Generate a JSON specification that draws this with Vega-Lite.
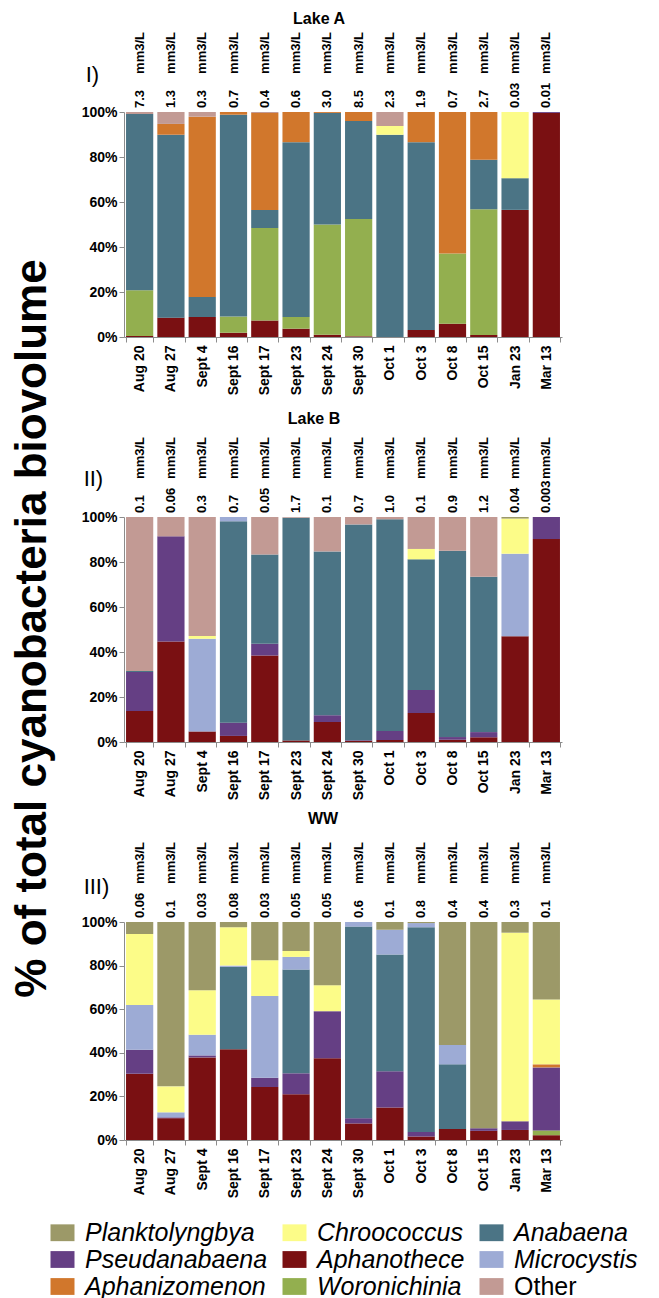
{
  "$schema": "https://vega.github.io/schema/vega-lite/v6.json",
  "background": "white",
  "padding": {"left": 10, "top": 10, "right": 0, "bottom": 0},
  "config": {
    "view": {"stroke": null},
    "axis": {"labelFont": "Liberation Sans", "labelFontWeight": "bold", "labelFontSize": 14, "labelColor": "black", "domainColor": "#8c8c8c", "tickColor": "#8c8c8c", "grid": false, "tickSize": 5, "labelPadding": 2},
    "legend": {"orient": "none", "legendX": -74, "legendY": 1108, "direction": "horizontal"}
  },
  "data": {"values": [
    {"lake": "Lake A", "date": "Aug 20", "vol": "7.3", "Aphanothece": 0.5, "Woronichinia": 20.3, "Anabaena": 78.3, "Other": 0.9},
    {"lake": "Lake A", "date": "Aug 27", "vol": "1.3", "Aphanothece": 8.6, "Anabaena": 81.3, "Aphanizomenon": 4.8, "Other": 5.3},
    {"lake": "Lake A", "date": "Sept 4", "vol": "0.3", "Aphanothece": 8.9, "Anabaena": 8.9, "Aphanizomenon": 80.1, "Other": 2.1},
    {"lake": "Lake A", "date": "Sept 16", "vol": "0.7", "Aphanothece": 1.9, "Woronichinia": 7.2, "Anabaena": 89.7, "Aphanizomenon": 1.2},
    {"lake": "Lake A", "date": "Sept 17", "vol": "0.4", "Aphanothece": 7.3, "Woronichinia": 41.1, "Anabaena": 8.1, "Aphanizomenon": 43.1, "Other": 0.4},
    {"lake": "Lake A", "date": "Sept 23", "vol": "0.6", "Aphanothece": 3.7, "Woronichinia": 5.2, "Anabaena": 77.7, "Aphanizomenon": 13.4},
    {"lake": "Lake A", "date": "Sept 24", "vol": "3.0", "Aphanothece": 1.0, "Woronichinia": 49.0, "Anabaena": 49.6, "Aphanizomenon": 0.4},
    {"lake": "Lake A", "date": "Sept 30", "vol": "8.5", "Aphanothece": 0.3, "Woronichinia": 52.1, "Anabaena": 43.6, "Aphanizomenon": 4.0},
    {"lake": "Lake A", "date": "Oct 1", "vol": "2.3", "Anabaena": 89.9, "Chroococcus": 3.9, "Other": 6.2},
    {"lake": "Lake A", "date": "Oct 3", "vol": "1.9", "Aphanothece": 3.1, "Anabaena": 83.5, "Aphanizomenon": 13.4},
    {"lake": "Lake A", "date": "Oct 8", "vol": "0.7", "Aphanothece": 5.9, "Woronichinia": 31.2, "Aphanizomenon": 62.9},
    {"lake": "Lake A", "date": "Oct 15", "vol": "2.7", "Aphanothece": 0.9, "Woronichinia": 55.9, "Anabaena": 22.0, "Aphanizomenon": 21.2},
    {"lake": "Lake A", "date": "Jan 23", "vol": "0.03", "Aphanothece": 56.5, "Anabaena": 14.1, "Chroococcus": 29.4},
    {"lake": "Lake A", "date": "Mar 13", "vol": "0.01", "Aphanothece": 99.6, "Pseudanabaena": 0.4},
    {"lake": "Lake B", "date": "Aug 20", "vol": "0.1", "Aphanothece": 13.8, "Pseudanabaena": 17.3, "Anabaena": 0.5, "Other": 68.4},
    {"lake": "Lake B", "date": "Aug 27", "vol": "0.06", "Aphanothece": 44.7, "Pseudanabaena": 46.7, "Other": 8.6},
    {"lake": "Lake B", "date": "Sept 4", "vol": "0.3", "Aphanothece": 4.7, "Microcystis": 41.2, "Chroococcus": 1.2, "Other": 52.9},
    {"lake": "Lake B", "date": "Sept 16", "vol": "0.7", "Aphanothece": 2.7, "Pseudanabaena": 5.9, "Anabaena": 89.5, "Microcystis": 1.9},
    {"lake": "Lake B", "date": "Sept 17", "vol": "0.05", "Aphanothece": 38.4, "Pseudanabaena": 5.3, "Anabaena": 39.6, "Other": 16.7},
    {"lake": "Lake B", "date": "Sept 23", "vol": "1.7", "Aphanothece": 0.7, "Anabaena": 99.0, "Other": 0.3},
    {"lake": "Lake B", "date": "Sept 24", "vol": "0.1", "Aphanothece": 8.9, "Pseudanabaena": 3.0, "Anabaena": 72.8, "Other": 15.3},
    {"lake": "Lake B", "date": "Sept 30", "vol": "0.7", "Aphanothece": 0.5, "Pseudanabaena": 0.3, "Anabaena": 95.9, "Other": 3.3},
    {"lake": "Lake B", "date": "Oct 1", "vol": "1.0", "Aphanothece": 0.9, "Pseudanabaena": 4.0, "Anabaena": 94.1, "Other": 1.0},
    {"lake": "Lake B", "date": "Oct 3", "vol": "0.1", "Aphanothece": 12.9, "Pseudanabaena": 10.2, "Anabaena": 58.1, "Chroococcus": 4.6, "Other": 14.2},
    {"lake": "Lake B", "date": "Oct 8", "vol": "0.9", "Aphanothece": 1.0, "Pseudanabaena": 1.2, "Anabaena": 82.8, "Other": 15.0},
    {"lake": "Lake B", "date": "Oct 15", "vol": "1.2", "Aphanothece": 2.1, "Pseudanabaena": 2.3, "Anabaena": 69.1, "Other": 26.5},
    {"lake": "Lake B", "date": "Jan 23", "vol": "0.04", "Aphanothece": 47.0, "Microcystis": 36.7, "Chroococcus": 15.6, "Planktolyngbya": 0.7},
    {"lake": "Lake B", "date": "Mar 13", "vol": "0.003", "Aphanothece": 90.2, "Pseudanabaena": 9.8},
    {"lake": "WW", "date": "Aug 20", "vol": "0.06", "Aphanothece": 30.4, "Pseudanabaena": 11.0, "Microcystis": 20.5, "Chroococcus": 32.6, "Planktolyngbya": 5.5},
    {"lake": "WW", "date": "Aug 27", "vol": "0.1", "Aphanothece": 10.0, "Pseudanabaena": 0.4, "Microcystis": 2.3, "Chroococcus": 11.9, "Planktolyngbya": 75.4},
    {"lake": "WW", "date": "Sept 4", "vol": "0.03", "Aphanothece": 37.9, "Pseudanabaena": 0.9, "Microcystis": 9.5, "Chroococcus": 20.4, "Planktolyngbya": 31.3},
    {"lake": "WW", "date": "Sept 16", "vol": "0.08", "Aphanothece": 41.6, "Anabaena": 37.8, "Microcystis": 0.6, "Chroococcus": 17.6, "Planktolyngbya": 2.4},
    {"lake": "WW", "date": "Sept 17", "vol": "0.03", "Aphanothece": 24.3, "Pseudanabaena": 4.3, "Microcystis": 37.5, "Chroococcus": 16.4, "Planktolyngbya": 17.5},
    {"lake": "WW", "date": "Sept 23", "vol": "0.05", "Aphanothece": 21.0, "Pseudanabaena": 9.6, "Anabaena": 47.6, "Microcystis": 5.8, "Chroococcus": 2.7, "Planktolyngbya": 13.3},
    {"lake": "WW", "date": "Sept 24", "vol": "0.05", "Aphanothece": 37.5, "Pseudanabaena": 21.6, "Chroococcus": 11.9, "Planktolyngbya": 29.0},
    {"lake": "WW", "date": "Sept 30", "vol": "0.6", "Aphanothece": 7.6, "Pseudanabaena": 2.4, "Anabaena": 87.9, "Microcystis": 2.1},
    {"lake": "WW", "date": "Oct 1", "vol": "0.1", "Aphanothece": 14.9, "Pseudanabaena": 16.6, "Anabaena": 53.6, "Microcystis": 11.4, "Planktolyngbya": 3.5},
    {"lake": "WW", "date": "Oct 3", "vol": "0.8", "Aphanothece": 1.6, "Pseudanabaena": 2.1, "Anabaena": 93.9, "Microcystis": 1.9, "Planktolyngbya": 0.5},
    {"lake": "WW", "date": "Oct 8", "vol": "0.4", "Aphanothece": 5.1, "Anabaena": 29.6, "Microcystis": 8.9, "Planktolyngbya": 56.4},
    {"lake": "WW", "date": "Oct 15", "vol": "0.4", "Aphanothece": 4.2, "Pseudanabaena": 1.2, "Planktolyngbya": 94.6},
    {"lake": "WW", "date": "Jan 23", "vol": "0.3", "Aphanothece": 4.6, "Pseudanabaena": 4.0, "Chroococcus": 86.5, "Planktolyngbya": 4.9},
    {"lake": "WW", "date": "Mar 13", "vol": "0.1", "Aphanothece": 2.2, "Woronichinia": 2.2, "Pseudanabaena": 28.9, "Aphanizomenon": 1.4, "Chroococcus": 29.8, "Planktolyngbya": 35.5}
  ]},
  "bounds": "flush",
  "spacing": 180,
  "vconcat": [
    {
      "width": 438, "height": 225,
      "title": {"text": "Lake A", "font": "Liberation Sans", "fontSize": 16, "fontWeight": "bold", "frame": "group", "anchor": "middle", "dx": -24, "offset": 5},
      "transform": [{"filter": "datum.lake === 'Lake A'"}],
      "layer": [
        {
          "transform": [
            {"fold": ["Aphanothece", "Woronichinia", "Pseudanabaena", "Anabaena", "Microcystis", "Aphanizomenon", "Chroococcus", "Planktolyngbya", "Other"], "as": ["species", "pct"]},
            {"filter": "datum.pct > 0"},
            {"calculate": "indexof(['Aphanothece','Woronichinia','Pseudanabaena','Anabaena','Microcystis','Aphanizomenon','Chroococcus','Planktolyngbya','Other'], datum.species)", "as": "stackrank"}
          ],
          "mark": {"type": "bar"},
          "encoding": {
            "x": {"field": "date", "type": "nominal", "sort": ["Aug 20","Aug 27","Sept 4","Sept 16","Sept 17","Sept 23","Sept 24","Sept 30","Oct 1","Oct 3","Oct 8","Oct 15","Jan 23","Mar 13"], "scale": {"paddingInner": 0.13, "paddingOuter": 0.065}, "axis": {"title": null, "labelAngle": -90, "tickBand": "extent", "labelPadding": 3}},
            "y": {"field": "pct", "type": "quantitative", "aggregate": "sum", "stack": "normalize", "scale": {"domain": [0, 1]}, "axis": {"title": "% of total cyanobacteria biovolume", "titleFont": "Liberation Sans", "titleFontSize": 44, "titleFontWeight": "bold", "titleColor": "black", "titlePadding": 27, "titleY": 516, "titleAnchor": "middle", "format": ".0%", "values": [0,0.1,0.2,0.3,0.4,0.5,0.6,0.7,0.8,0.9,1]}},
            "color": {"field": "species", "type": "nominal", "scale": {"domain": ["Planktolyngbya","Chroococcus","Anabaena","Pseudanabaena","Aphanothece","Microcystis","Aphanizomenon","Woronichinia","Other"], "range": ["#9C9968","#FCFC88","#4B7485","#653F84","#7A1012","#9DABD5","#D1772C","#93AF4F","#C29A94"]},
              "legend": {"title": null, "columns": 3, "direction": "horizontal", "labelFont": "Liberation Sans", "labelFontSize": 25, "labelFontStyle": "italic", "labelColor": "black", "symbolType": "M-1,-0.7H1V0.7H-1Z", "symbolSize": 576, "symbolStrokeWidth": 0, "symbolOpacity": 1, "rowPadding": 1, "columnPadding": 14, "labelOffset": 10, "labelLimit": 300, "padding": 0,
                "encode": {"labels": {"update": {"fontStyle": {"signal": "datum.label === 'Other' ? 'normal' : 'italic'"}}}}}},
            "order": {"field": "stackrank", "type": "quantitative"}
          }
        },
        {
          "mark": {"type": "text", "angle": 270, "align": "left", "baseline": "middle", "dx": 4, "font": "Liberation Sans", "fontSize": 13, "fontWeight": "bold"},
          "encoding": {"x": {"field": "date", "type": "nominal", "sort": null}, "y": {"datum": 1, "type": "quantitative"}, "text": {"field": "vol"}}
        },
        {
          "mark": {"type": "text", "angle": 270, "align": "right", "baseline": "middle", "dx": 80, "font": "Liberation Sans", "fontSize": 13, "fontWeight": "bold"},
          "encoding": {"x": {"field": "date", "type": "nominal", "sort": null}, "y": {"datum": 1, "type": "quantitative"}, "text": {"value": "mm3/L"}}
        },
        {
          "transform": [{"filter": "datum.date === 'Aug 20'"}],
          "mark": {"type": "text", "align": "left", "baseline": "middle", "dx": -54, "dy": -37, "font": "Liberation Sans", "fontSize": 22},
          "encoding": {"x": {"field": "date", "type": "nominal", "sort": null}, "y": {"datum": 1, "type": "quantitative"}, "text": {"value": "I)"}}
        }
      ]
    },
    {
      "width": 438, "height": 225,
      "title": {"text": "Lake B", "font": "Liberation Sans", "fontSize": 16, "fontWeight": "bold", "frame": "group", "anchor": "middle", "dx": -29, "offset": 10},
      "transform": [{"filter": "datum.lake === 'Lake B'"}],
      "layer": [
        {
          "transform": [
            {"fold": ["Aphanothece", "Woronichinia", "Pseudanabaena", "Anabaena", "Microcystis", "Aphanizomenon", "Chroococcus", "Planktolyngbya", "Other"], "as": ["species", "pct"]},
            {"filter": "datum.pct > 0"},
            {"calculate": "indexof(['Aphanothece','Woronichinia','Pseudanabaena','Anabaena','Microcystis','Aphanizomenon','Chroococcus','Planktolyngbya','Other'], datum.species)", "as": "stackrank"}
          ],
          "mark": {"type": "bar"},
          "encoding": {
            "x": {"field": "date", "type": "nominal", "sort": ["Aug 20","Aug 27","Sept 4","Sept 16","Sept 17","Sept 23","Sept 24","Sept 30","Oct 1","Oct 3","Oct 8","Oct 15","Jan 23","Mar 13"], "scale": {"paddingInner": 0.13, "paddingOuter": 0.065}, "axis": {"title": null, "labelAngle": -90, "tickBand": "extent", "labelPadding": 3}},
            "y": {"field": "pct", "type": "quantitative", "aggregate": "sum", "stack": "normalize", "scale": {"domain": [0, 1]}, "axis": {"title": null, "format": ".0%", "values": [0,0.1,0.2,0.3,0.4,0.5,0.6,0.7,0.8,0.9,1]}},
            "color": {"field": "species", "type": "nominal"},
            "order": {"field": "stackrank", "type": "quantitative"}
          }
        },
        {
          "mark": {"type": "text", "angle": 270, "align": "left", "baseline": "middle", "dx": 4, "font": "Liberation Sans", "fontSize": 13, "fontWeight": "bold"},
          "encoding": {"x": {"field": "date", "type": "nominal", "sort": null}, "y": {"datum": 1, "type": "quantitative"}, "text": {"field": "vol"}}
        },
        {
          "mark": {"type": "text", "angle": 270, "align": "right", "baseline": "middle", "dx": 80, "font": "Liberation Sans", "fontSize": 13, "fontWeight": "bold"},
          "encoding": {"x": {"field": "date", "type": "nominal", "sort": null}, "y": {"datum": 1, "type": "quantitative"}, "text": {"value": "mm3/L"}}
        },
        {
          "transform": [{"filter": "datum.date === 'Aug 20'"}],
          "mark": {"type": "text", "align": "left", "baseline": "middle", "dx": -56, "dy": -38, "font": "Liberation Sans", "fontSize": 22},
          "encoding": {"x": {"field": "date", "type": "nominal", "sort": null}, "y": {"datum": 1, "type": "quantitative"}, "text": {"value": "II)"}}
        }
      ]
    },
    {
      "width": 438, "height": 218,
      "title": {"text": "WW", "font": "Liberation Sans", "fontSize": 16, "fontWeight": "bold", "frame": "group", "anchor": "middle", "dx": -20, "offset": 15},
      "transform": [{"filter": "datum.lake === 'WW'"}],
      "layer": [
        {
          "transform": [
            {"fold": ["Aphanothece", "Woronichinia", "Pseudanabaena", "Anabaena", "Microcystis", "Aphanizomenon", "Chroococcus", "Planktolyngbya", "Other"], "as": ["species", "pct"]},
            {"filter": "datum.pct > 0"},
            {"calculate": "indexof(['Aphanothece','Woronichinia','Pseudanabaena','Anabaena','Microcystis','Aphanizomenon','Chroococcus','Planktolyngbya','Other'], datum.species)", "as": "stackrank"}
          ],
          "mark": {"type": "bar"},
          "encoding": {
            "x": {"field": "date", "type": "nominal", "sort": ["Aug 20","Aug 27","Sept 4","Sept 16","Sept 17","Sept 23","Sept 24","Sept 30","Oct 1","Oct 3","Oct 8","Oct 15","Jan 23","Mar 13"], "scale": {"paddingInner": 0.13, "paddingOuter": 0.065}, "axis": {"title": null, "labelAngle": -90, "tickBand": "extent", "labelPadding": 3}},
            "y": {"field": "pct", "type": "quantitative", "aggregate": "sum", "stack": "normalize", "scale": {"domain": [0, 1]}, "axis": {"title": null, "format": ".0%", "values": [0,0.1,0.2,0.3,0.4,0.5,0.6,0.7,0.8,0.9,1]}},
            "color": {"field": "species", "type": "nominal"},
            "order": {"field": "stackrank", "type": "quantitative"}
          }
        },
        {
          "mark": {"type": "text", "angle": 270, "align": "left", "baseline": "middle", "dx": 4, "font": "Liberation Sans", "fontSize": 13, "fontWeight": "bold"},
          "encoding": {"x": {"field": "date", "type": "nominal", "sort": null}, "y": {"datum": 1, "type": "quantitative"}, "text": {"field": "vol"}}
        },
        {
          "mark": {"type": "text", "angle": 270, "align": "right", "baseline": "middle", "dx": 80, "font": "Liberation Sans", "fontSize": 13, "fontWeight": "bold"},
          "encoding": {"x": {"field": "date", "type": "nominal", "sort": null}, "y": {"datum": 1, "type": "quantitative"}, "text": {"value": "mm3/L"}}
        },
        {
          "transform": [{"filter": "datum.date === 'Aug 20'"}],
          "mark": {"type": "text", "align": "left", "baseline": "middle", "dx": -56, "dy": -35, "font": "Liberation Sans", "fontSize": 22},
          "encoding": {"x": {"field": "date", "type": "nominal", "sort": null}, "y": {"datum": 1, "type": "quantitative"}, "text": {"value": "III)"}}
        }
      ]
    }
  ]
}
